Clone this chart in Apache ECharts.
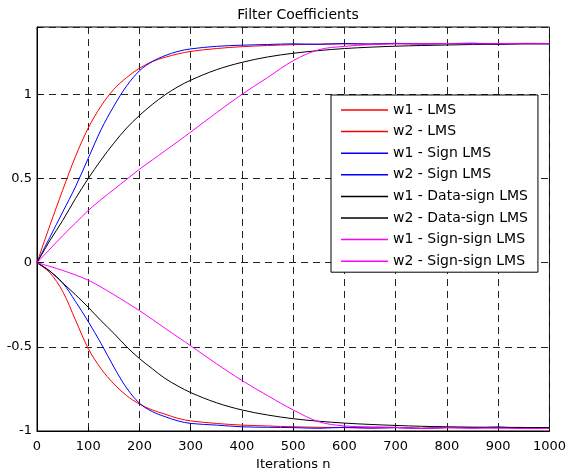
<!DOCTYPE html>
<html>
<head>
<meta charset="utf-8">
<script src="https://cdn.jsdelivr.net/npm/echarts@6/dist/echarts.min.js"></script>
<style>
  html, body { margin: 0; padding: 0; background: #fff; }
  #chart { width: 569px; height: 476px; }
</style>
</head>
<body>
<div id="chart"></div>
<script>
var iters = [0, 25, 50, 75, 100, 125, 150, 175, 200, 225, 250, 275, 300, 350, 400, 450, 500,
  550, 600, 650, 700, 750, 800, 850, 900, 950, 1000];

// w1 curves
var w1Lms = [0, 0.22, 0.43, 0.63, 0.80, 0.93, 1.03, 1.10, 1.155, 1.195, 1.22, 1.24, 1.255, 1.272, 1.283, 1.29, 1.295,
  1.298, 1.30, 1.299, 1.301, 1.30, 1.302, 1.30, 1.301, 1.30, 1.302];
var w1Sign = [0, 0.15, 0.30, 0.45, 0.62, 0.79, 0.93, 1.05, 1.14, 1.195, 1.23, 1.255, 1.27, 1.285, 1.292, 1.296, 1.30,
  1.297, 1.302, 1.298, 1.303, 1.299, 1.301, 1.304, 1.298, 1.302, 1.30];
var w1Data = [0, 0.13, 0.25, 0.38, 0.50, 0.61, 0.71, 0.80, 0.875, 0.94, 0.997, 1.045, 1.084, 1.146, 1.19, 1.222, 1.244,
  1.26, 1.272, 1.28, 1.286, 1.29, 1.293, 1.296, 1.298, 1.30, 1.30];
var w1SignSign = [0, 0.08, 0.16, 0.235, 0.31, 0.375, 0.435, 0.495, 0.555, 0.61, 0.665, 0.72, 0.776, 0.89, 1.00, 1.10, 1.20,
  1.265, 1.285, 1.295, 1.30, 1.30, 1.302, 1.30, 1.301, 1.303, 1.302];

// w2 curves
var w2Lms = [0, -0.06, -0.17, -0.34, -0.51, -0.63, -0.72, -0.79, -0.84, -0.875, -0.90, -0.925, -0.94, -0.955, -0.965, -0.97, -0.975,
  -0.978, -0.98, -0.982, -0.98, -0.983, -0.981, -0.98, -0.982, -0.98, -0.983];
var w2Sign = [0, -0.05, -0.12, -0.23, -0.35, -0.48, -0.62, -0.745, -0.835, -0.885, -0.915, -0.94, -0.955, -0.965, -0.975, -0.978, -0.98,
  -0.984, -0.978, -0.983, -0.98, -0.985, -0.979, -0.982, -0.976, -0.984, -0.98];
var w2Data = [0, -0.05, -0.12, -0.19, -0.265, -0.345, -0.42, -0.50, -0.57, -0.63, -0.688, -0.733, -0.772, -0.832, -0.875, -0.905, -0.927,
  -0.942, -0.953, -0.961, -0.967, -0.972, -0.975, -0.977, -0.978, -0.979, -0.98];
var w2SignSign = [0, -0.022, -0.046, -0.073, -0.104, -0.145, -0.19, -0.237, -0.285, -0.337, -0.39, -0.442, -0.494, -0.60, -0.70, -0.79, -0.875,
  -0.945, -0.97, -0.975, -0.978, -0.985, -0.98, -0.983, -0.982, -0.985, -0.985];

var names = ['w1 - LMS', 'w2 - LMS', 'w1 - Sign LMS', 'w2 - Sign LMS',
  'w1 - Data-sign LMS', 'w2 - Data-sign LMS', 'w1 - Sign-sign LMS', 'w2 - Sign-sign LMS'];
var values = [w1Lms, w2Lms, w1Sign, w2Sign, w1Data, w2Data, w1SignSign, w2SignSign];
var colors = ['#ff0000', '#ff0000', '#0000ff', '#0000ff', '#000000', '#000000', '#ff00ff', '#ff00ff'];

var FONT = 'DejaVu Sans';
var gridLine = { show: true, lineStyle: { color: '#222', width: 1, type: [7, 5] } };

var chart = echarts.init(document.getElementById('chart'));

var option = {
  animation: false,
  backgroundColor: '#fff',
  textStyle: { fontFamily: FONT },
  title: {
    text: 'Filter Coefficients',
    left: 293,
    top: 3,
    textAlign: 'center',
    textStyle: { fontFamily: FONT, fontSize: 14, fontWeight: 'normal', color: '#000' }
  },
  grid: {
    left: 37, right: 16, top: 27, bottom: 44,
    show: true, borderColor: '#000', borderWidth: 1
  },
  legend: {
    orient: 'vertical',
    left: 331,
    top: 95,
    data: names,
    icon: 'rect',
    itemWidth: 47,
    itemHeight: 1.5,
    itemGap: 7.6,
    padding: [8, 10, 4, 10],
    backgroundColor: '#fff',
    borderColor: '#000',
    borderWidth: 1,
    borderRadius: 0,
    textStyle: { fontFamily: FONT, fontSize: 14, color: '#000' }
  },
  xAxis: {
    type: 'value',
    min: 0, max: 1000, interval: 100,
    name: 'Iterations n',
    nameLocation: 'middle',
    nameGap: 27,
    nameTextStyle: { fontFamily: FONT, fontSize: 13, color: '#000' },
    axisLine: { onZero: false, lineStyle: { color: '#000' } },
    axisTick: { inside: true, length: 4, lineStyle: { color: '#000' } },
    axisLabel: {
      fontFamily: FONT, fontSize: 13, color: '#000', margin: 9,
      formatter: function (v) { return String(v); }
    },
    splitLine: gridLine
  },
  yAxis: {
    type: 'value',
    min: -1, max: 1.4, interval: 0.5,
    axisLine: { show: true, onZero: false, lineStyle: { color: '#000' } },
    axisTick: { show: true, inside: true, length: 4, lineStyle: { color: '#000' } },
    axisLabel: {
      fontFamily: FONT, fontSize: 13, color: '#000', margin: 5,
      formatter: function (v) { return Math.abs(v * 2 - Math.round(v * 2)) < 1e-9 ? String(v) : ''; }
    },
    splitLine: gridLine
  },
  series: names.map(function (n, i) {
    return {
      name: n,
      type: 'line',
      showSymbol: false,
      smooth: 0.35,
      lineStyle: { width: 1, color: colors[i] },
      itemStyle: { color: colors[i] },
      data: iters.map(function (x, k) { return [x, values[i][k]]; })
    };
  })
};

chart.setOption(option);
</script>
</body>
</html>
